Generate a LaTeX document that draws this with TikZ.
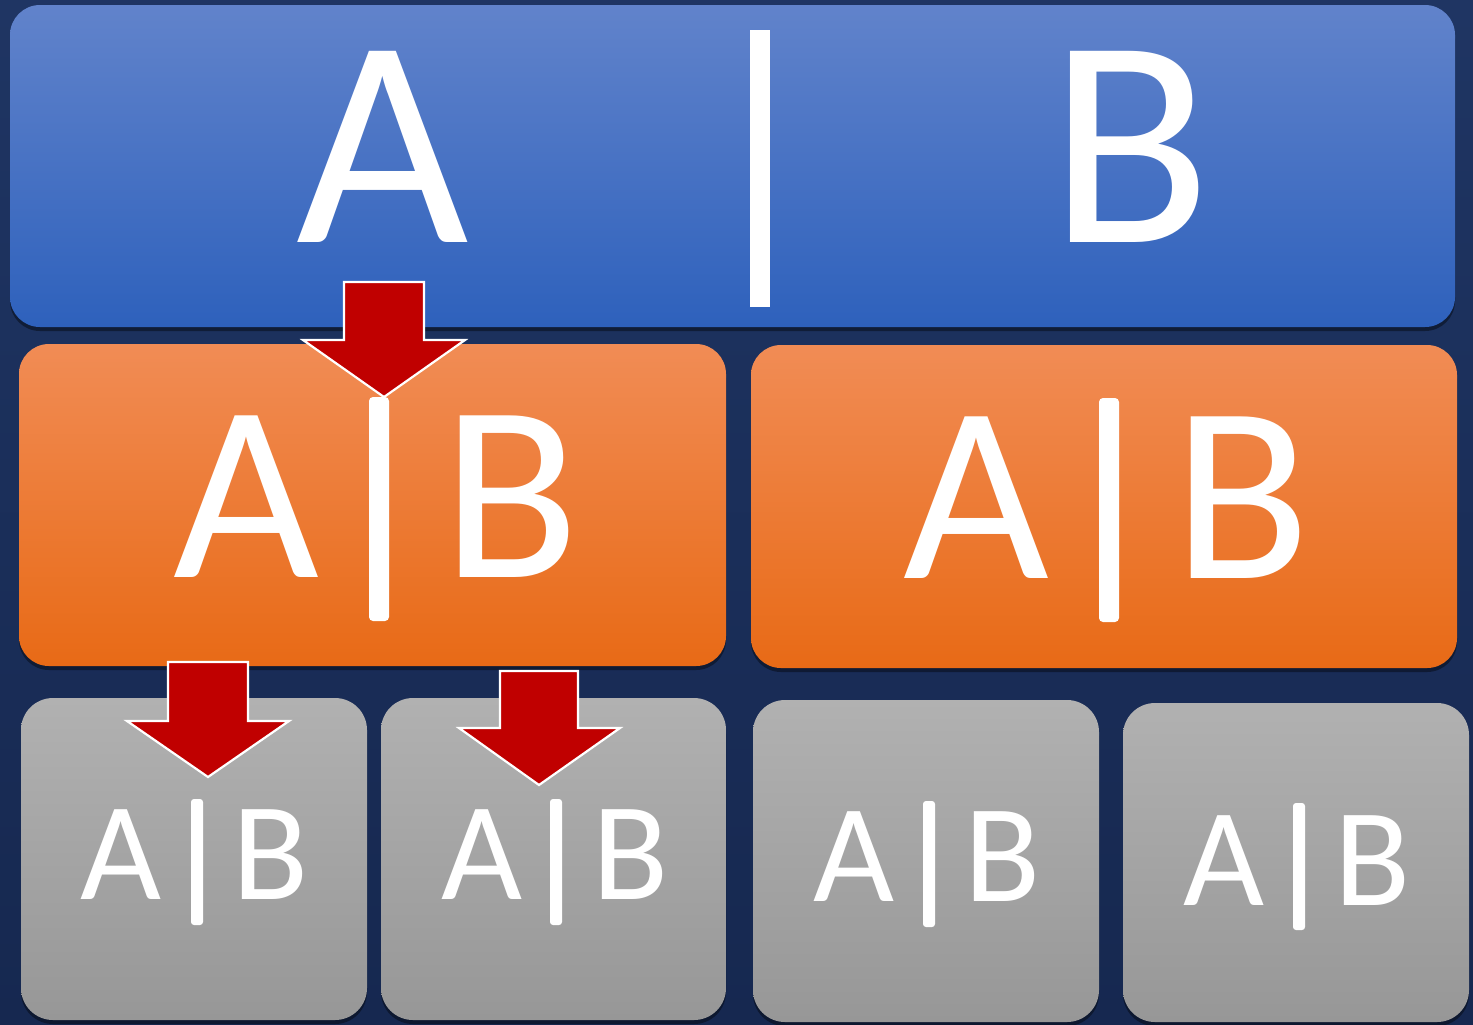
\documentclass[tikz,border=0pt]{standalone}
\usepackage{fontspec}
\setmainfont{Carlito}
\usetikzlibrary{shadows}
\definecolor{bgnavy}{HTML}{162850}
\definecolor{bgnavylt}{HTML}{1F3563}
\definecolor{bluetop}{HTML}{6183CB}
\definecolor{bluebot}{HTML}{2E61BC}
\definecolor{orgtop}{HTML}{F18C55}
\definecolor{orgbot}{HTML}{E86A16}
\definecolor{graytop}{HTML}{B1B1B1}
\definecolor{graybot}{HTML}{979797}
\definecolor{arrowred}{HTML}{C00000}
\tikzset{
  boxshadow/.style={drop shadow={shadow xshift=0pt, shadow yshift=-2pt, opacity=0.4, fill=black}},
  bluebox/.style={rounded corners=15pt, top color=bluetop, bottom color=bluebot, boxshadow},
  orangebox/.style={rounded corners=15pt, top color=orgtop, bottom color=orgbot, boxshadow},
  graybox/.style={rounded corners=16pt, top color=graytop, bottom color=graybot, boxshadow},
  bigtxt/.style={text=white, inner sep=0pt, anchor=base, font=\fontsize{149}{156}\selectfont},
  midtxt/.style={text=white, inner sep=0pt, anchor=base, font=\fontsize{126}{132}\selectfont},
  smalltxt/.style={text=white, inner sep=0pt, anchor=base, font=\fontsize{70}{74}\selectfont},
  downarrow/.style={fill=arrowred, draw=white, line width=1.1pt, line join=miter},
}
\begin{document}
\begin{tikzpicture}[x=0.5pt,y=-0.5pt]
\useasboundingbox (0,0) rectangle (1473,1024);
% background
\fill[top color=bgnavylt, bottom color=bgnavy] (0,0) rectangle (1473,1024);

% boxes
\path[bluebox] (10,5) rectangle (1455,327);
\path[orangebox] (19,344) rectangle (726,666);
\path[orangebox] (751,345) rectangle (1457,668);
\path[graybox] (21,698) rectangle (367,1020);
\path[graybox] (381,698) rectangle (726,1020);
\path[graybox] (753,700) rectangle (1099,1022);
\path[graybox] (1123,703) rectangle (1469,1022);

% top row text
\node[bigtxt] (tA) at (382.5,242) {A};
\fill[white] (750,30) rectangle (770,307);
\node[bigtxt] (tB) at (1131,242) {B};

% orange left
\node[midtxt] (oA1) at (246.5,577) {A};
\fill[white, rounded corners=2pt] (369,397) rectangle (389,621);
\node[midtxt] (oB1) at (511.5,577) {B};
% orange right
\node[midtxt] (oA2) at (976,578) {A};
\fill[white, rounded corners=2pt] (1099,398) rectangle (1119,622);
\node[midtxt] (oB2) at (1242,578) {B};

% gray boxes
\node[smalltxt] (gA1) at (121.5,899) {A};
\fill[white, rounded corners=1.5pt] (191,799) rectangle (203,925);
\node[smalltxt] (gB1) at (270.5,899) {B};

\node[smalltxt] (gA2) at (481.5,899) {A};
\fill[white, rounded corners=1.5pt] (550,799) rectangle (562,925);
\node[smalltxt] (gB2) at (630.5,899) {B};

\node[smalltxt] (gA3) at (853.5,901) {A};
\fill[white, rounded corners=1.5pt] (923,801) rectangle (935,927);
\node[smalltxt] (gB3) at (1002.5,901) {B};

\node[smalltxt] (gA4) at (1224,905) {A};
\fill[white, rounded corners=1.5pt] (1293,803) rectangle (1305,930);
\node[smalltxt] (gB4) at (1373,905) {B};

% red arrows
\draw[downarrow] (344,282) -- (424,282) -- (424,340) -- (465,340) -- (384,397) -- (303,340) -- (344,340) -- cycle;
\draw[downarrow] (168,662) -- (248,662) -- (248,721) -- (289,721) -- (208,777) -- (127,721) -- (168,721) -- cycle;
\draw[downarrow] (500,671) -- (578,671) -- (578,728) -- (620,728) -- (539,785) -- (459,728) -- (500,728) -- cycle;
\end{tikzpicture}
\end{document}
